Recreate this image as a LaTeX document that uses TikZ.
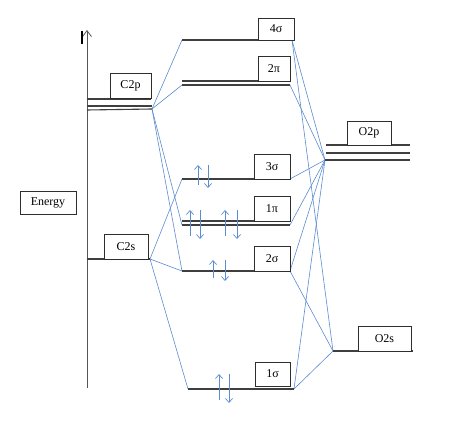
\documentclass[tikz,border=0pt]{standalone}
\usepackage{fontspec}
\setmainfont{Liberation Serif}
\usetikzlibrary{arrows.meta}
\definecolor{LevelGray}{HTML}{3F3F3F}
\definecolor{AxisGray}{HTML}{555555}
\definecolor{CorrBlue}{HTML}{5B8BD0}
\definecolor{BoxEdge}{HTML}{2E2E2E}

\begin{document}
\begin{tikzpicture}[
  x=1pt, y=-1pt,
  line cap=butt, line join=miter,
  level/.style={LevelGray, line width=1.1pt},
  corr/.style={CorrBlue, line width=0.6pt},
  spin/.style={CorrBlue, line width=0.7pt, -{Straight Barb[length=4pt,width=7pt]}},
  tag/.style={draw=BoxEdge, line width=0.8pt, fill=white,
    font=\fontsize{12}{14}\selectfont, inner sep=0pt, minimum height=25pt}
]
\useasboundingbox (0,0) rectangle (474,430);

% === Energy axis ===
\draw[AxisGray, line width=0.8pt, -{Straight Barb[length=6pt,width=9pt]}]
  (87,388) -- (87,30);
\draw[black, line width=1.4pt] (82,31) -- (82,44);

% === Junction points of the atomic levels ===
\coordinate (C2pJ) at (152,109);
\coordinate (C2sJ) at (150,259);
\coordinate (O2pJ) at (325,160);
\coordinate (O2sJ) at (333,351);

% === Molecular levels, left and right ends ===
\coordinate (s4L) at (182,40);  \coordinate (s4R) at (292,40);
\coordinate (p2L) at (182,85);  \coordinate (p2R) at (290,85);
\coordinate (s3L) at (182,179); \coordinate (s3R) at (290,179);
\coordinate (p1L) at (182,225); \coordinate (p1R) at (290,225);
\coordinate (s2L) at (182,271); \coordinate (s2R) at (290,271);
\coordinate (s1L) at (188,389); \coordinate (s1R) at (294,389);

% === Correlation lines ===
\foreach \m in {s4L,p2L,p1L,s2L}
  \draw[corr] (C2pJ) -- (\m);
\foreach \m in {s3L,s2L,s1L}
  \draw[corr] (C2sJ) -- (\m);
\foreach \m in {s4R,p2R,s3R,p1R,s2R,s1R}
  \draw[corr] (O2pJ) -- (\m);
\foreach \m in {s4R,s2R,s1R}
  \draw[corr] (O2sJ) -- (\m);

% === Atomic levels ===
\draw[level] (87,99) -- (151,99);
\draw[level] (87,106) -- (152,106);
\draw[level] (87,110) -- (C2pJ);
\draw[level] (87,259) -- (C2sJ);
\draw[level] (326,145) -- (410,145);
\draw[level] (326,153) -- (410,153);
\draw[level] (O2pJ) -- (410,160);
\draw[level] (O2sJ) -- (413,351);

% === Molecular levels ===
\draw[level] (s4L) -- (s4R);
\draw[level] (182,81) -- (290,81);
\draw[level] (p2L) -- (p2R);
\draw[level] (s3L) -- (s3R);
\draw[level] (182,221) -- (290,221);
\draw[level] (p1L) -- (p1R);
\draw[level] (s2L) -- (s2R);
\draw[level] (s1L) -- (s1R);

% === Labels ===
\node[tag, minimum width=56pt, minimum height=23pt] (energy) at (48,202.5) {Energy};
\node[tag, minimum width=41pt] (C2p) at (130.5,85.5) {C2p};
\node[tag, minimum width=44pt] (C2s) at (126,246.5) {C2s};
\node[tag, minimum width=44pt, minimum height=24pt] (O2p) at (369,133) {O2p};
\node[tag, minimum width=53pt] (O2s) at (384.5,338.5) {O2s};
\node[tag, minimum width=36pt, minimum height=22pt] (mo4s) at (276,29) {4σ};
\node[tag, minimum width=32pt] (mo2p) at (274,68.5) {2π};
\node[tag, minimum width=36pt] (mo3s) at (272,166.5) {3σ};
\node[tag, minimum width=36pt] (mo1p) at (272,208.5) {1π};
\node[tag, minimum width=36pt] (mo2s) at (272,258.5) {2σ};
\node[tag, minimum width=35pt, minimum height=24pt] (mo1s) at (272.5,374) {1σ};

% === Electron pairs ===
\foreach \xu/\xd/\yt/\yb in {198/208/165/188, 190/200/210/239,
  225/237/210/239, 213/225/260/281, 219/229/374/403} {
  \draw[spin] (\xu,\yb-3) -- (\xu,\yt);
  \draw[spin] (\xd,\yt) -- (\xd,\yb);
}

\end{tikzpicture}
\end{document}
